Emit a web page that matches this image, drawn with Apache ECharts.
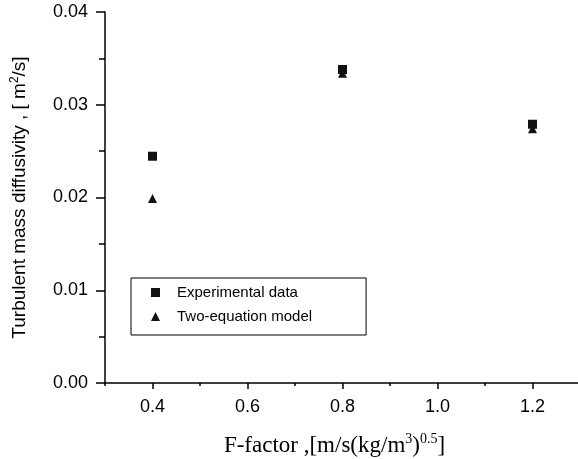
<!DOCTYPE html>
<html>
<head>
<meta charset="utf-8">
<script src="https://cdn.jsdelivr.net/npm/echarts@6/dist/echarts.min.js"></script>
<style>
  html, body { margin: 0; padding: 0; background: #fff; }
  #chart { width: 578px; height: 459px; }
</style>
</head>
<body>
<div id="chart"></div>
<script>
var fFactor = [0.4, 0.8, 1.2];
var experimental = [0.02445, 0.0338, 0.0279];
var twoEquation = [0.0199, 0.0334, 0.0274];
var xTickValues = [0.4, 0.6, 0.8, 1.0, 1.2];

(function() {
  var ink = '#000';
  var sans = 'Liberation Sans, Arial, sans-serif';
  var serif = 'Liberation Serif, Times New Roman, serif';

  function pairs(ys) {
    return fFactor.map(function(x, i) { return [x, ys[i]]; });
  }

  var chart = echarts.init(document.getElementById('chart'), null, { renderer: 'canvas' });
  chart.setOption({
    animation: false,
    backgroundColor: '#fff',
    grid: { left: 105, top: 12, width: 475, height: 371, containLabel: false, outerBoundsMode: 'none' },
    legend: {
      orient: 'vertical',
      left: 131,
      top: 278,
      borderColor: ink,
      borderWidth: 1,
      borderRadius: 0,
      padding: [7, 54, 11, 20],
      itemWidth: 9,
      itemHeight: 9,
      itemGap: 9,
      textStyle: { fontSize: 15, fontFamily: sans, color: ink, padding: [0, 0, 0, 12] },
      data: [
        { name: 'Experimental data', icon: 'rect' },
        { name: 'Two-equation model', icon: 'triangle' }
      ]
    },
    xAxis: [{
      type: 'value',
      min: 0.3,
      max: 1.3,
      interval: 0.1,
      splitLine: { show: false },
      axisLine: { lineStyle: { color: ink, width: 1.5 } },
      axisTick: { customValues: xTickValues, length: 6, lineStyle: { color: ink, width: 1.5 } },
      axisLabel: {
        customValues: xTickValues,
        margin: 15,
        fontSize: 18,
        fontFamily: sans,
        color: ink,
        formatter: function(v) { return v.toFixed(1); }
      },
      name: '{t|F-factor ,[m/s(kg/m}{s|3}{t|)}{s|0.5}{t|]}',
      nameLocation: 'middle',
      nameGap: 49,
      nameTextStyle: {
        padding: [0, 16, 0, 0],
        rich: {
          t: { fontSize: 23, fontFamily: serif, color: ink, lineHeight: 28 },
          s: { fontSize: 14, fontFamily: serif, color: ink, verticalAlign: 'top', lineHeight: 15 }
        }
      }
    }, {
      type: 'value',
      min: 0.3,
      max: 1.3,
      interval: 0.1,
      position: 'bottom',
      splitLine: { show: false },
      axisLine: { show: false },
      axisTick: { length: 3, lineStyle: { color: ink, width: 1.5 } },
      axisLabel: { show: false }
    }],
    yAxis: {
      type: 'value',
      min: 0,
      max: 0.04,
      interval: 0.01,
      splitLine: { show: false },
      axisLine: { lineStyle: { color: ink, width: 1.5 } },
      axisTick: { length: 9, lineStyle: { color: ink, width: 1.5 } },
      minorTick: { show: true, splitNumber: 2, length: 6, lineStyle: { color: ink, width: 1.5 } },
      axisLabel: {
        margin: 17,
        fontSize: 18,
        fontFamily: sans,
        color: ink,
        formatter: function(v) { return v.toFixed(2); }
      },
      name: '{t|Turbulent mass diffusivity , [ m}{s|2}{t|/s]}',
      nameLocation: 'middle',
      nameGap: 74,
      nameTextStyle: {
        rich: {
          t: { fontSize: 19, fontFamily: sans, color: ink, lineHeight: 22 },
          s: { fontSize: 12, fontFamily: sans, color: ink, verticalAlign: 'top', lineHeight: 13 }
        }
      }
    },
    series: [{
      name: 'Experimental data',
      type: 'scatter',
      symbol: 'rect',
      symbolSize: 9,
      itemStyle: { color: '#111', opacity: 1 },
      data: pairs(experimental)
    }, {
      name: 'Two-equation model',
      type: 'scatter',
      symbol: 'triangle',
      symbolSize: 9,
      itemStyle: { color: '#111', opacity: 1 },
      data: pairs(twoEquation)
    }]
  });
  window.addEventListener('resize', function() { chart.resize(); });
})();
</script>
</body>
</html>
